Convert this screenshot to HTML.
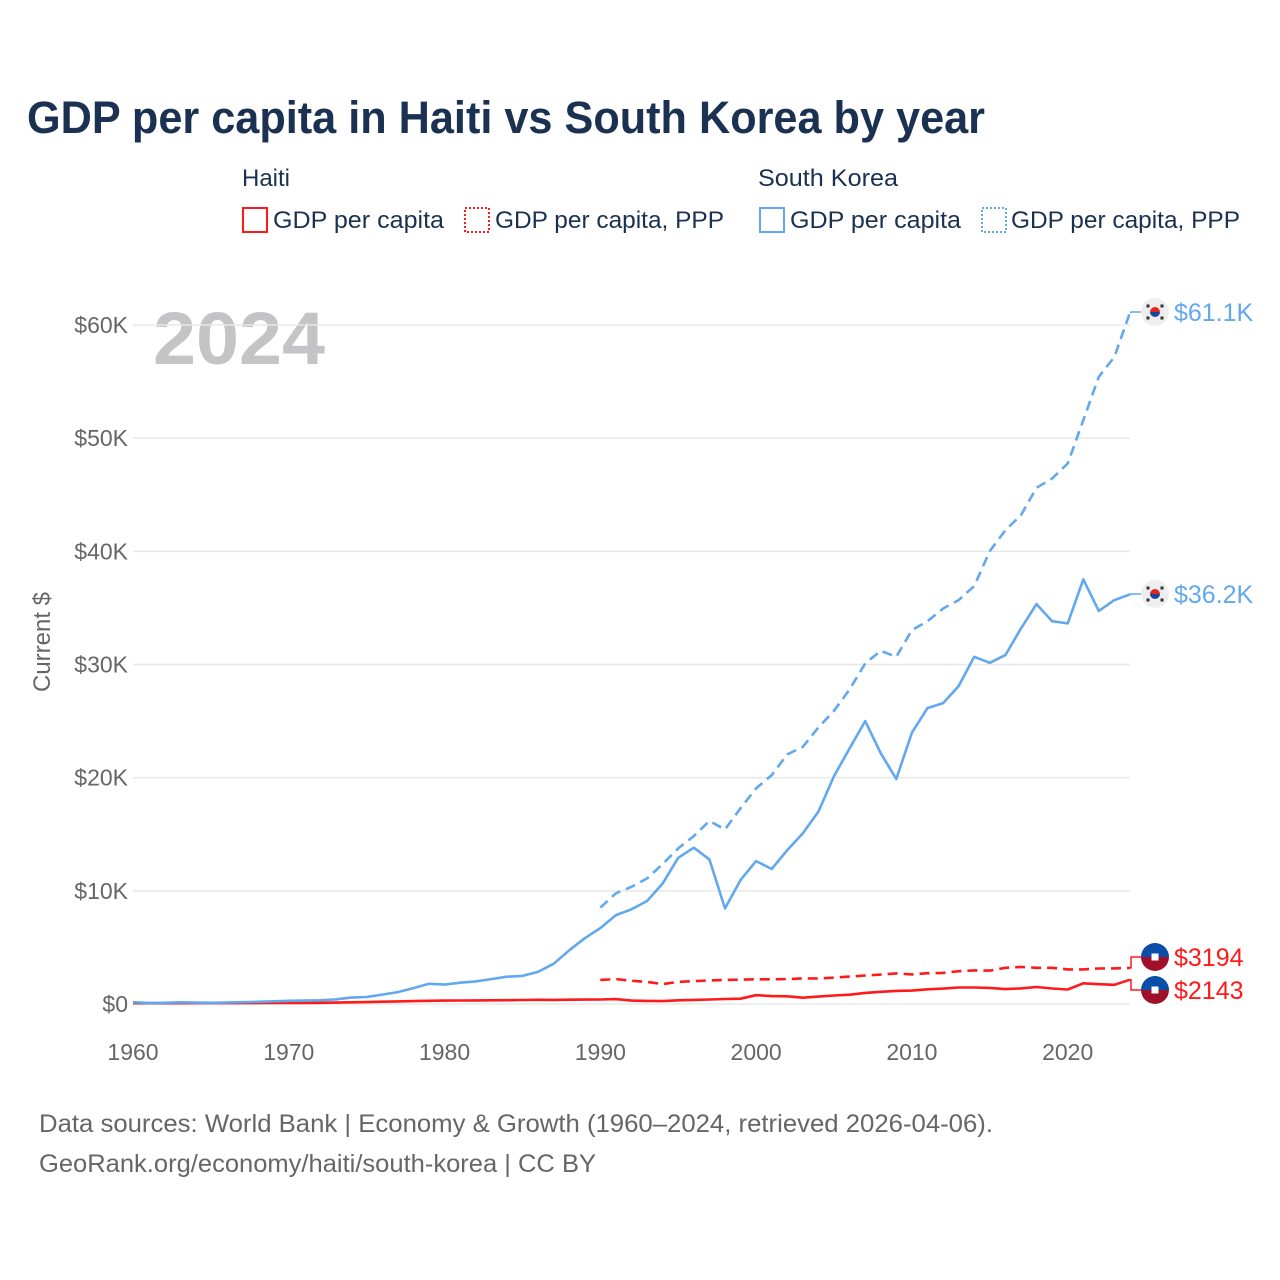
<!DOCTYPE html>
<html><head><meta charset="utf-8">
<style>
html,body{margin:0;padding:0;background:#fff;}
svg{display:block;font-family:"Liberation Sans",sans-serif;}
</style></head>
<body>
<svg id="chart" width="1280" height="1280" viewBox="0 0 1280 1280" xmlns="http://www.w3.org/2000/svg">
<text x="27" y="133" font-size="45" font-weight="bold" fill="#1b3152" textLength="958" lengthAdjust="spacingAndGlyphs">GDP per capita in Haiti vs South Korea by year</text>
<g font-size="24" fill="#1b3152">
<text x="242" y="186">Haiti</text>
<rect x="243" y="208" width="24" height="24" fill="none" stroke="#ff1a1a" stroke-width="2"/>
<text x="273" y="228" textLength="171" lengthAdjust="spacingAndGlyphs">GDP per capita</text>
<rect x="465" y="208" width="24" height="24" fill="none" stroke="#ff1a1a" stroke-width="2" stroke-dasharray="2,2"/>
<text x="495" y="228" textLength="229" lengthAdjust="spacingAndGlyphs">GDP per capita, PPP</text>
<text x="758" y="186" textLength="140" lengthAdjust="spacingAndGlyphs">South Korea</text>
<rect x="760" y="208" width="24" height="24" fill="none" stroke="#62a8ee" stroke-width="2"/>
<text x="790" y="228" textLength="171" lengthAdjust="spacingAndGlyphs">GDP per capita</text>
<rect x="982" y="208" width="24" height="24" fill="none" stroke="#62a8ee" stroke-width="2" stroke-dasharray="2,2"/>
<text x="1011" y="228" textLength="229" lengthAdjust="spacingAndGlyphs">GDP per capita, PPP</text>
</g>
<text x="153" y="364" font-size="74" font-weight="bold" fill="#c4c4c6" textLength="172" lengthAdjust="spacingAndGlyphs">2024</text>
<text transform="translate(50,642) rotate(-90)" text-anchor="middle" font-size="24" fill="#666">Current $</text>
<g id="grid"></g><g id="ticks"></g><g id="lines"></g><g id="labels"></g>
<text x="39" y="1132" font-size="25" fill="#666" textLength="954" lengthAdjust="spacingAndGlyphs">Data sources: World Bank | Economy &amp; Growth (1960–2024, retrieved 2026-04-06).</text>
<text x="39" y="1172" font-size="25" fill="#666" textLength="557" lengthAdjust="spacingAndGlyphs">GeoRank.org/economy/haiti/south-korea | CC BY</text>
</svg>
<script>
const yTicks = [0,10000,20000,30000,40000,50000,60000];
const yTickLabels = ["$0","$10K","$20K","$30K","$40K","$50K","$60K"];
const xTicks = [1960,1970,1980,1990,2000,2010,2020];
const koreaYears0 = 1960;
const koreaGdp = [158,94,106,146,124,109,133,161,198,243,279,301,324,406,563,616,834,1055,1405,1783,1710,1883,1993,2199,2413,2482,2835,3555,4749,5818,6710,7860,8370,9100,10660,12920,13810,12780,8450,10950,12630,11930,13600,15080,17000,20140,22590,25000,22150,19880,23970,26150,26590,28090,30680,30150,30830,33190,35340,33830,33630,37520,34740,35690,36200];
const koreaPppYears0 = 1990;
const koreaPpp = [8510,9780,10360,11100,12370,13750,14840,16170,15430,17290,19050,20230,22060,22730,24440,25910,27800,30100,31210,30680,33040,33830,34950,35690,36930,40020,41870,43200,45610,46440,47760,51590,55420,57180,61100];
const haitiYears0 = 1960;
const haitiGdp = [70,72,75,73,76,78,80,82,85,88,90,100,110,120,150,170,200,230,260,280,300,310,320,330,340,350,370,360,380,390,400,430,300,270,260,330,360,400,440,470,780,700,680,560,650,750,820,980,1080,1160,1180,1300,1360,1460,1460,1420,1320,1380,1500,1370,1280,1830,1750,1700,2143];
const haitiPppYears0 = 1990;
const haitiPpp = [2130,2200,2050,1950,1760,1950,2020,2080,2120,2160,2180,2180,2200,2260,2250,2330,2420,2520,2600,2700,2620,2720,2750,2900,2970,2950,3200,3280,3200,3200,3060,3060,3140,3150,3194];
const endLabels = ["$61.1K","$36.2K","$3194","$2143"];

const NS="http://www.w3.org/2000/svg";
const X0=133,X1=1130,Y0=1004,Y60=325;
function xs(yr){return X0+(yr-1960)*(X1-X0)/64;}
function ys(v){return Y0-(v/60000)*(Y0-Y60);}
function mk(tag,attrs,parent,txt){const e=document.createElementNS(NS,tag);for(const k in attrs)e.setAttribute(k,attrs[k]);if(txt!==undefined)e.textContent=txt;parent.appendChild(e);return e;}
const grid=document.getElementById('grid'),ticks=document.getElementById('ticks'),lines=document.getElementById('lines'),labels=document.getElementById('labels');
yTicks.forEach((t,i)=>{
  const g=mk('line',{x1:X0,x2:X1,y1:ys(t),y2:ys(t),stroke:'#e8e8e8','stroke-width':1.5},grid);
  
  
  const l=mk('text',{x:128,y:ys(t)+8,'text-anchor':'end','font-size':23,fill:'#666'},ticks,yTickLabels[i]);
  
  
});
xTicks.forEach(t=>{
  const l=mk('text',{x:xs(t),y:1060,'text-anchor':'middle','font-size':23,fill:'#666'},ticks,String(t));
  
  
});
function series(arr,y0,color,dash,name){
  const pts=arr.map((v,i)=>xs(y0+i).toFixed(1)+','+ys(v).toFixed(1)).join(' ');
  const p=mk('polyline',{points:pts,fill:'none',stroke:color,'stroke-width':2.6,'stroke-linejoin':'round'},lines);
  if(dash)p.setAttribute('stroke-dasharray','10,6');
  
  
}
series(haitiGdp,haitiYears0,'#ff1a1a',false,'line-haiti-gdp');
series(haitiPpp,haitiPppYears0,'#ff1a1a',true,'line-haiti-ppp');
series(koreaGdp,koreaYears0,'#62a8ee',false,'line-korea-gdp');
series(koreaPpp,koreaPppYears0,'#62a8ee',true,'line-korea-ppp');
const ends=[
 {v:koreaPpp[koreaPpp.length-1],ly:312,c:'#62a8ee',flag:'kr'},
 {v:koreaGdp[koreaGdp.length-1],ly:594,c:'#62a8ee',flag:'kr'},
 {v:haitiPpp[haitiPpp.length-1],ly:957,c:'#ff1a1a',flag:'ht'},
 {v:haitiGdp[haitiGdp.length-1],ly:990,c:'#ff1a1a',flag:'ht'}];
ends.forEach((e,i)=>{
  const y=ys(e.v);
  const ld=mk('polyline',{points:`${X1},${y} 1131,${y} 1131,${e.ly} 1142,${e.ly}`,fill:'none',stroke:e.c,'stroke-width':1.5},labels);
  
  
  const g=mk('g',{},labels);
  
  
  const cx=1155,cy=e.ly,r=14;
  if(e.flag==='kr'){
    mk('circle',{cx,cy,r,fill:'#eeeeee'},g);
    mk('path',{d:`M${cx-5},${cy} A5,5 0 0 1 ${cx+5},${cy} Z`,fill:'#e8231e'},g);
    mk('path',{d:`M${cx-5},${cy} A5,5 0 0 0 ${cx+5},${cy} Z`,fill:'#1448a0'},g);
    [[-7,-6],[7,-6],[-7,6],[7,6]].forEach(d=>mk('rect',{x:cx+d[0]-1.5,y:cy+d[1]-1.5,width:3,height:3,fill:'#333'},g));
  } else {
    mk('path',{d:`M${cx-r},${cy} A${r},${r} 0 0 1 ${cx+r},${cy} Z`,fill:'#0a4ea8'},g);
    mk('path',{d:`M${cx-r},${cy} A${r},${r} 0 0 0 ${cx+r},${cy} Z`,fill:'#a0102a'},g);
    mk('rect',{x:cx-3.5,y:cy-3.5,width:7,height:7,fill:'#fff'},g);
  }
  const t=mk('text',{x:1174,y:e.ly+9,'font-size':25,fill:e.c},labels,endLabels[i]);
  
  
});
</script>
</body></html>
